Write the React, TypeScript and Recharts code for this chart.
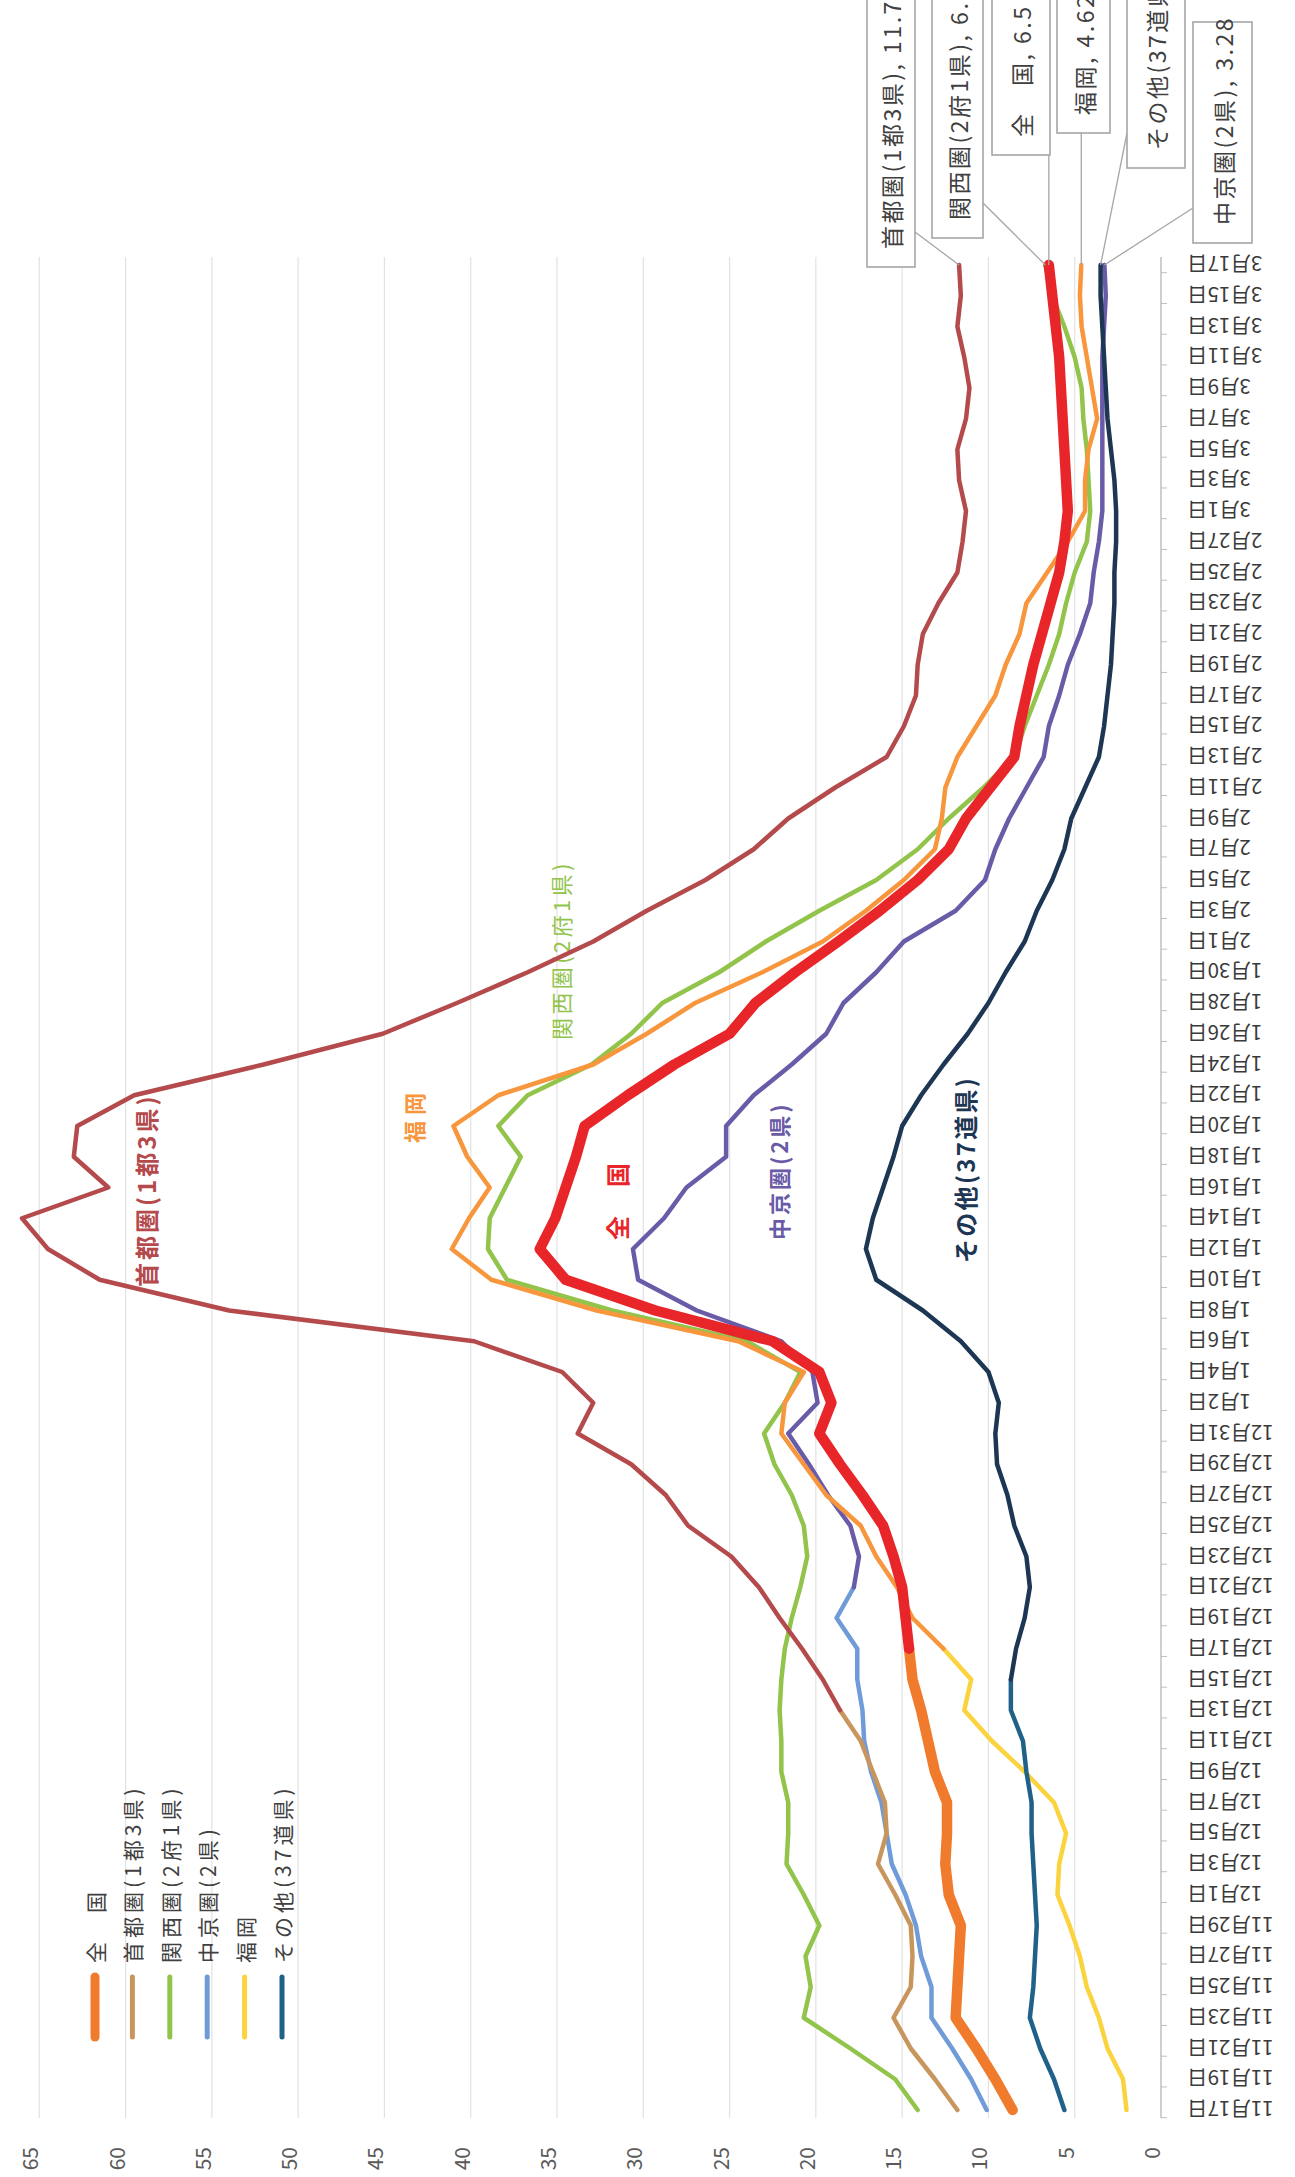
import React from "react";
import {
  LineChart,
  Line,
  XAxis,
  YAxis,
  CartesianGrid,
  ReferenceDot,
  Customized,
} from "recharts";

// every other day, 2020/11/17 - 2021/3/17
const dates = [
  "11月17日", "11月19日", "11月21日", "11月23日", "11月25日", "11月27日", "11月29日",
  "12月1日", "12月3日", "12月5日", "12月7日", "12月9日", "12月11日", "12月13日", "12月15日",
  "12月17日", "12月19日", "12月21日", "12月23日", "12月25日", "12月27日", "12月29日", "12月31日",
  "1月2日", "1月4日", "1月6日", "1月8日", "1月10日", "1月12日", "1月14日", "1月16日",
  "1月18日", "1月20日", "1月22日", "1月24日", "1月26日", "1月28日", "1月30日",
  "2月1日", "2月3日", "2月5日", "2月7日", "2月9日", "2月11日", "2月13日", "2月15日",
  "2月17日", "2月19日", "2月21日", "2月23日", "2月25日", "2月27日",
  "3月1日", "3月3日", "3月5日", "3月7日", "3月9日", "3月11日", "3月13日", "3月15日", "3月17日",
];

const zenkoku = [
  8.6, 9.6, 10.7, 11.9, 11.8, 11.7, 11.6, 12.3, 12.5, 12.4,
  12.4, 13.1, 13.5, 13.9, 14.4, 14.6, 14.8, 15.0, 15.5, 16.1,
  17.3, 18.6, 19.8, 19.1, 19.8, 22.5, 29.3, 34.5, 36.0, 35.1,
  34.5, 33.9, 33.4, 30.9, 28.2, 25.0, 23.5, 21.2, 18.7, 16.3,
  14.1, 12.3, 11.3, 9.9, 8.5, 8.2, 7.8, 7.4, 6.9, 6.4,
  5.9, 5.6, 5.4, 5.5, 5.6, 5.7, 5.8, 5.9, 6.1, 6.3, 6.5,
];
const shuto = [
  11.8, 13.1, 14.5, 15.5, 14.5, 14.4, 14.5, 15.4, 16.4, 15.9,
  16.0, 16.7, 17.4, 18.6, 19.6, 20.8, 22.1, 23.3, 24.9, 27.4,
  28.7, 30.7, 33.8, 32.9, 34.7, 39.8, 54.0, 61.5, 64.5, 66.0,
  61.0, 63.0, 62.8, 59.5, 52.0, 45.1, 40.8, 36.7, 32.9, 29.8,
  26.4, 23.6, 21.6, 18.9, 15.9, 14.9, 14.2, 14.1, 13.8, 12.9,
  11.8, 11.5, 11.3, 11.7, 11.8, 11.3, 11.1, 11.4, 11.8, 11.6, 11.7,
];
const kansai = [
  14.1, 15.4, 18.0, 20.7, 20.3, 20.6, 19.8, 20.7, 21.7, 21.6,
  21.6, 22.0, 22.0, 22.1, 22.0, 21.8, 21.4, 20.9, 20.5, 20.7,
  21.4, 22.4, 23.0, 21.8, 20.9, 24.0, 31.8, 37.9, 39.0, 38.9,
  38.0, 37.1, 38.4, 36.7, 33.0, 30.7, 28.9, 25.6, 22.9, 19.8,
  16.5, 14.1, 12.3, 10.3, 8.5, 7.9, 7.2, 6.5, 5.9, 5.5,
  5.0, 4.3, 4.1, 4.2, 4.3, 4.5, 4.6, 5.0, 5.6, 6.3, 6.7,
];
const chukyo = [
  10.1, 11.0, 12.1, 13.3, 13.3, 13.9, 14.2, 14.8, 15.6, 15.9,
  16.2, 16.8, 17.2, 17.3, 17.6, 17.6, 18.8, 17.8, 17.5, 18.0,
  19.3, 20.4, 21.6, 19.9, 20.2, 22.0, 26.9, 30.3, 30.6, 28.8,
  27.5, 25.2, 25.2, 23.6, 21.4, 19.4, 18.4, 16.5, 14.9, 11.9,
  10.2, 9.6, 8.8, 7.8, 6.8, 6.5, 5.9, 5.4, 4.7, 4.1,
  3.9, 3.6, 3.4, 3.4, 3.4, 3.4, 3.4, 3.4, 3.3, 3.2, 3.28,
];
const fukuoka = [
  2.0, 2.2, 3.1, 3.6, 4.3, 4.7, 5.3, 6.0, 5.9, 5.5,
  6.2, 7.9, 9.8, 11.4, 11.0, 12.6, 14.4, 15.3, 16.5, 17.4,
  19.4, 20.7, 22.0, 21.8, 20.7, 24.5, 32.7, 38.8, 41.1, 40.1,
  38.9, 40.2, 41.0, 38.4, 32.9, 29.8, 27.0, 23.1, 19.6, 17.1,
  14.9, 13.1, 12.7, 12.5, 11.8, 10.7, 9.6, 9.0, 8.2, 7.8,
  6.6, 5.4, 4.4, 4.4, 4.2, 3.7, 4.0, 4.3, 4.6, 4.7, 4.62,
];
const sonota = [
  5.6, 6.2, 7.0, 7.6, 7.4, 7.3, 7.2, 7.3, 7.4, 7.5,
  7.5, 7.8, 8.0, 8.7, 8.7, 8.4, 7.9, 7.6, 7.8, 8.5,
  8.9, 9.5, 9.6, 9.4, 10.0, 11.6, 13.8, 16.5, 17.1, 16.7,
  16.1, 15.5, 15.0, 13.9, 12.6, 11.2, 10.0, 9.0, 7.9, 7.2,
  6.3, 5.6, 5.2, 4.4, 3.6, 3.3, 3.1, 2.9, 2.8, 2.7,
  2.7, 2.6, 2.6, 2.7, 2.9, 3.1, 3.2, 3.3, 3.4, 3.5, 3.5,
];

const valueTicks = [0, 5, 10, 15, 20, 25, 30, 35, 40, 45, 50, 55, 60, 65];

const FONT = "'Noto Sans CJK JP', 'Noto Sans', sans-serif";

// early = colour of the first stretch (as in legend), late = colour after `split`
const series = [
  { key: "kansai", name: "関西圏(2府1県)", values: kansai, early: "#92c34a", late: "#92c34a", split: 60, width: 4.5,
    box: { x: 1939, y1: 989, y2: 1040, w: 400 } },
  { key: "chukyo", name: "中京圏(2県)", values: chukyo, early: "#6f9bd8", late: "#6a5ba8", split: 17, width: 4.5,
    box: { x: 1934, y1: 1250, y2: 1309, w: 221 } },
  { key: "fukuoka", name: "福岡", values: fukuoka, early: "#fbd33e", late: "#f7963c", split: 15, width: 4.5,
    box: { x: 2044, y1: 1114, y2: 1167, w: 400 } },
  { key: "sonota", name: "その他(37道県)", values: sonota, early: "#1f6189", late: "#1c3654", split: 14, width: 4.5,
    box: { x: 2009, y1: 1184, y2: 1242, w: 400 } },
  { key: "shuto", name: "首都圏(1都3県)", values: shuto, early: "#c8965d", late: "#b44a4b", split: 13, width: 4.5,
    box: { x: 1910, y1: 924, y2: 972, w: 400 } },
  { key: "zenkoku", name: "全　国", values: zenkoku, early: "#f07b2c", late: "#e8262a", split: 15, width: 10.5,
    box: { x: 2022, y1: 1049, y2: 1107, w: 400 } },
];

const legendOrder = ["zenkoku", "shuto", "kansai", "chukyo", "fukuoka", "sonota"];

const annotations = [
  { text: "首都圏(1都3県)", x: 890, y: 202, color: "#b44a4b", size: 24, ls: 3, bold: true },
  { text: "福岡", x: 1034, y: 470, color: "#f7963c", size: 22, ls: 6, bold: true },
  { text: "関西圏(2府1県)", x: 1137, y: 617, color: "#92c34a", size: 22, ls: 3.4, bold: false },
  { text: "全　国", x: 937, y: 673, color: "#e8262a", size: 24, ls: 2.5, bold: true },
  { text: "中京圏(2県)", x: 937, y: 835, color: "#6a5ba8", size: 22, ls: 3, bold: true },
  { text: "その他(37道県)", x: 914, y: 1021, color: "#1c3654", size: 24, ls: 2.3, bold: true },
];

const data = dates.map((date, i) => {
  const row: Record<string, any> = { date };
  series.forEach((s) => {
    row[s.key + "A"] = i <= s.split ? s.values[i] : null;
    row[s.key + "B"] = i >= s.split ? s.values[i] : null;
  });
  return row;
});

const W = 2177;
const H = 1352;

function DateTick(props: any) {
  const { x, y, payload } = props;
  return (
    <g>
      <line x1={x - 7.7} y1={y - 26} x2={x - 7.7} y2={y - 20} stroke="#bfbfbf" />
      <text
        x={x}
        y={y}
        transform={`rotate(-90 ${x} ${y})`}
        textAnchor="end"
        dominantBaseline="central"
        fontSize={20.5}
        fill="#3a3a3a"
      >
        {payload.value}
      </text>
    </g>
  );
}

function ValueTick(props: any) {
  const { x, y, payload } = props;
  return (
    <text x={x} y={y - 10} textAnchor="end" dominantBaseline="central" fontSize={21} fill="#5a5a5a">
      {payload.value}
    </text>
  );
}

function makeCallout(s: any) {
  return (p: any) => {
    const { cx, cy } = p;
    const b = s.box;
    let tx = b.x;
    let ty = cy;
    if (cy > b.y2) {
      tx = b.x + 35;
      ty = b.y2;
    } else if (cy < b.y1) {
      tx = b.x + 35;
      ty = b.y1;
    }
    const last = s.values[s.values.length - 1];
    return (
      <g>
        <line x1={cx} y1={cy} x2={tx} y2={ty} stroke="#a6a6a6" strokeWidth={1.3} />
        <rect x={b.x} y={b.y1} width={b.w} height={b.y2 - b.y1} fill="#fff" stroke="#a6a6a6" strokeWidth={1.6} />
        <text
          x={b.x + 18}
          y={(b.y1 + b.y2) / 2}
          dominantBaseline="central"
          fontSize={23}
          letterSpacing={2.5}
          fill="#404040"
        >
          {`${s.name}, ${last}`}
        </text>
      </g>
    );
  };
}

function Overlay() {
  return (
    <g>
      {annotations.map((a) => (
        <text
          key={a.text}
          x={a.x}
          y={a.y}
          fill={a.color}
          fontSize={a.size}
          fontWeight={a.bold ? 700 : 400}
          letterSpacing={a.ls}
          dominantBaseline="central"
        >
          {a.text}
        </text>
      ))}
      {legendOrder.map((k, i) => {
        const s = series.find((x) => x.key === k)!;
        const y = 152 + i * 37.4;
        return (
          <g key={k}>
            <line
              x1={140}
              y1={y}
              x2={200}
              y2={y}
              stroke={s.early}
              strokeWidth={k === "zenkoku" ? 9 : 5}
              strokeLinecap="round"
            />
            <text x={214} y={y} dominantBaseline="central" fontSize={21} letterSpacing={4} fill="#404040">
              {s.name}
            </text>
          </g>
        );
      })}
    </g>
  );
}

export default function App() {
  return (
    <div
      style={{
        position: "absolute",
        left: 0,
        top: 0,
        width: 1295,
        height: 2177,
        overflow: "hidden",
        background: "#fff",
        fontFamily: FONT,
      }}
    >
      <div
        style={{
          position: "absolute",
          left: 0,
          top: 0,
          width: W,
          height: H,
          transformOrigin: "0 0",
          transform: "translate(-57px, 2177px) rotate(-90deg)",
        }}
      >
        <LineChart
          width={W}
          height={H}
          data={data}
          margin={{ top: 10, right: 257, bottom: 0, left: 9 }}
        >
          <CartesianGrid vertical={false} stroke="#e2e2e2" strokeWidth={1.2} />
          <XAxis
            dataKey="date"
            interval={0}
            height={134}
            padding={{ left: 8, right: 8 }}
            tickLine={false}
            tickSize={6}
            tickMargin={20}
            axisLine={{ stroke: "#c4c4c4", strokeWidth: 1.5 }}
            tick={<DateTick />}
          />
          <YAxis
            type="number"
            domain={[0, 70]}
            ticks={valueTicks}
            width={50}
            axisLine={false}
            tickLine={false}
            tickSize={0}
            tickMargin={29}
            tick={<ValueTick />}
          />
          {series.map((s) => (
            <Line
              key={s.key + "A"}
              type="linear"
              dataKey={s.key + "A"}
              stroke={s.early}
              strokeWidth={s.width}
              strokeLinecap="round"
              strokeLinejoin="round"
              dot={false}
              activeDot={false}
              legendType="none"
              isAnimationActive={false}
            />
          ))}
          {series.map((s) => (
            <Line
              key={s.key + "B"}
              type="linear"
              dataKey={s.key + "B"}
              stroke={s.late}
              strokeWidth={s.width}
              strokeLinecap="round"
              strokeLinejoin="round"
              dot={false}
              activeDot={false}
              legendType="none"
              isAnimationActive={false}
            />
          ))}
          {series.map((s) => (
            <ReferenceDot
              key={s.key + "C"}
              x={dates[dates.length - 1]}
              y={s.values[s.values.length - 1]}
              r={0}
              shape={makeCallout(s)}
            />
          ))}
          <Customized component={Overlay} />
        </LineChart>
      </div>
    </div>
  );
}
